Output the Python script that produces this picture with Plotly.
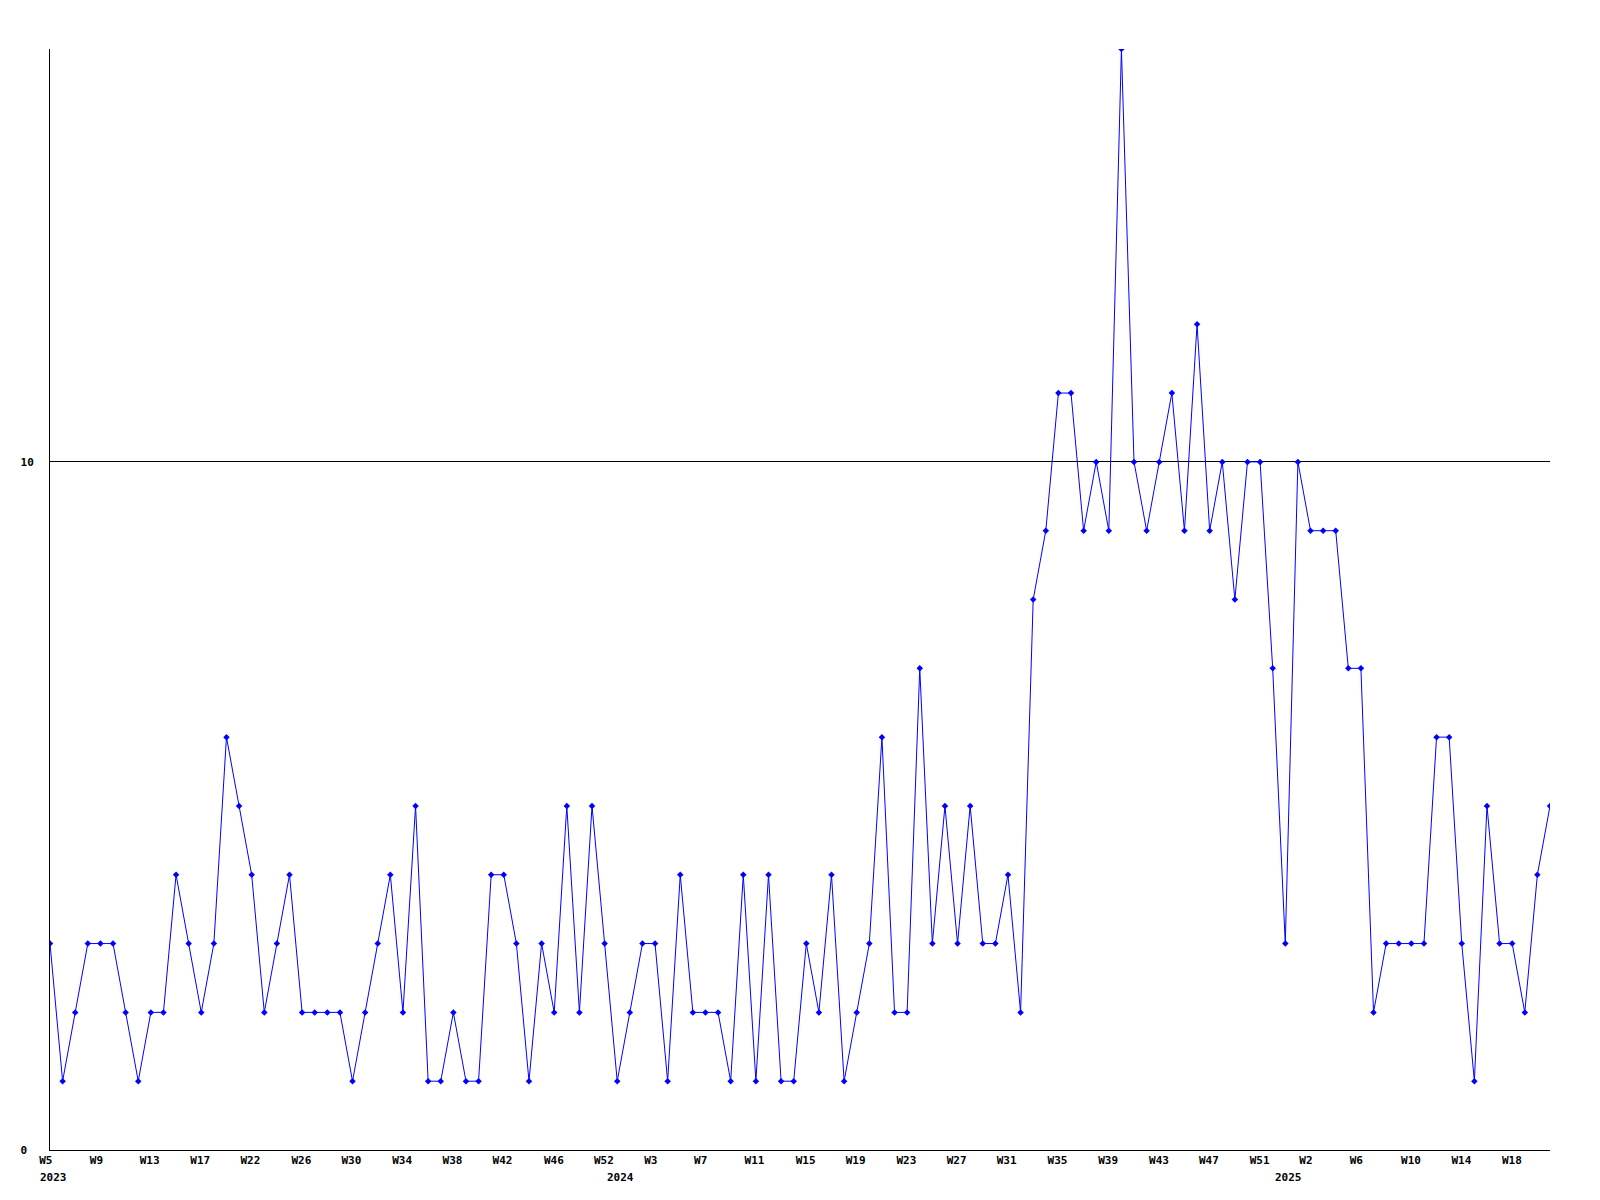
import plotly.graph_objects as go

# Weekly counts, ISO week 5 of 2023 through week 20 of 2025
weeks = ([f"2023-W{w}" for w in range(5, 53)]
         + [f"2024-W{w}" for w in range(1, 53)]
         + [f"2025-W{w}" for w in range(1, 21)])

values = [
    3, 1, 2, 3, 3, 3, 2, 1, 2, 2,
    4, 3, 2, 3, 6, 5, 4, 2, 3, 4,
    2, 2, 2, 2, 1, 2, 3, 4, 2, 5,
    1, 1, 2, 1, 1, 4, 4, 3, 1, 3,
    2, 5, 2, 5, 3, 1, 2, 3, 3, 1,
    4, 2, 2, 2, 1, 4, 1, 4, 1, 1,
    3, 2, 4, 1, 2, 3, 6, 2, 2, 7,
    3, 5, 3, 5, 3, 3, 4, 2, 8, 9,
    11, 11, 9, 10, 9, 16, 10, 9, 10, 11,
    9, 12, 9, 10, 8, 10, 10, 7, 3, 10,
    9, 9, 9, 7, 7, 2, 3, 3, 3, 3,
    6, 6, 3, 1, 5, 3, 3, 2, 4, 5,
]

x_index = list(range(len(values)))

# x-axis tick labels (right edge of each label, in week-index units)
tick_labels = ["W5", "W9", "W13", "W17", "W22", "W26", "W30", "W34", "W38", "W42",
               "W46", "W52", "W3", "W7", "W11", "W15", "W19", "W23", "W27", "W31",
               "W35", "W39", "W43", "W47", "W51", "W2", "W6", "W10", "W14", "W18"]
tick_positions = [0.23, 4.25, 8.73, 12.75, 16.72, 20.77, 24.74, 28.76, 32.76, 36.73,
                  40.80, 44.77, 48.23, 52.19, 56.72, 60.77, 64.74, 68.77, 72.75, 76.72,
                  80.76, 84.77, 88.81, 92.77, 96.79, 100.2, 104.2, 108.8, 112.8, 116.8]

year_labels = ["2023", "2024", "2025"]
year_positions = [0.24, 45.22, 98.22]

y_ticks = [0, 10]
y_tick_text = ["0\u00a0", "10"]

FONT = "DejaVu Sans Mono"

fig = go.Figure()
fig.add_trace(go.Scatter(
    x=x_index,
    y=values,
    text=weeks,
    mode="lines+markers",
    line=dict(color="#0000ff", width=1),
    marker=dict(symbol="diamond", size=5, color="#0000ff"),
    hovertemplate="%{text}: %{y}<extra></extra>",
))

for label, pos in zip(year_labels, year_positions):
    fig.add_annotation(
        x=pos, y=0, xref="x", yref="paper",
        text=label, showarrow=False,
        xanchor="center", yanchor="middle", yshift=-27,
        font=dict(family=FONT, size=11, color="black", weight="bold"),
    )

fig.update_layout(
    width=1600, height=1200,
    margin=dict(l=50, r=50, t=49, b=50),
    paper_bgcolor="white", plot_bgcolor="white",
    showlegend=False,
    xaxis=dict(
        range=[0, len(values) - 1],
        showline=True, linecolor="black", linewidth=1,
        showgrid=False, zeroline=False,
        tickmode="array", tickvals=tick_positions, ticktext=tick_labels,
        ticks="", ticklabelposition="outside left",
        tickfont=dict(family=FONT, size=11, color="black", weight="bold"),
    ),
    yaxis=dict(
        range=[0, 16],
        showline=True, linecolor="black", linewidth=1,
        showgrid=True, gridcolor="black", gridwidth=1,
        zeroline=False,
        tickmode="array", tickvals=y_ticks, ticktext=y_tick_text,
        ticks="", ticklabelstandoff=13,
        tickfont=dict(family=FONT, size=11, color="black", weight="bold"),
    ),
)

fig.write_html("out.html", config={"displayModeBar": False},
               post_script="document.body.style.margin='0';")
